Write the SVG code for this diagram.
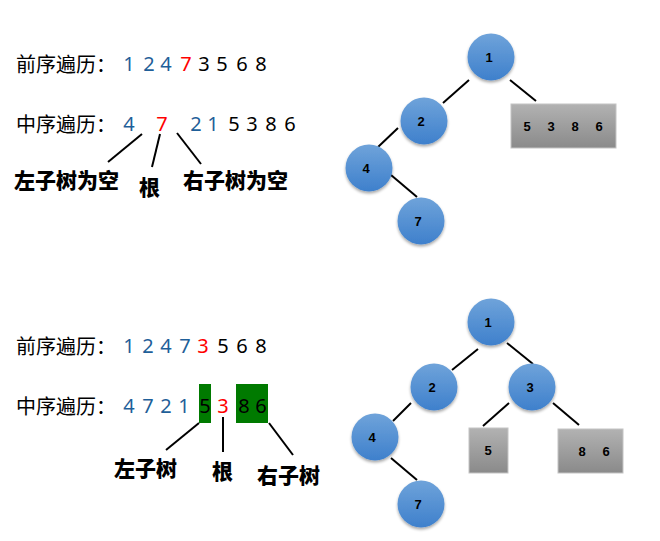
<svg xmlns="http://www.w3.org/2000/svg" width="660" height="541" viewBox="0 0 660 541">
<defs>
<linearGradient id="gBlue" x1="0" y1="0" x2="0" y2="1">
<stop offset="0" stop-color="#6fa3da"/>
<stop offset="1" stop-color="#3e80cc"/>
</linearGradient>
<linearGradient id="gGray" x1="0" y1="0" x2="0" y2="1">
<stop offset="0" stop-color="#b2b2b2"/>
<stop offset="1" stop-color="#8a8a8a"/>
</linearGradient>
<filter id="sh" x="-30%" y="-30%" width="160%" height="170%">
<feGaussianBlur in="SourceAlpha" stdDeviation="1.5"/>
<feOffset dx="0" dy="2" result="b"/>
<feComponentTransfer><feFuncA type="linear" slope="0.35"/></feComponentTransfer>
<feMerge><feMergeNode/><feMergeNode in="SourceGraphic"/></feMerge>
</filter>
</defs>
<style>
.t{font-family:"Noto Sans CJK SC","Noto Sans",sans-serif;font-size:20px;fill:#000}
.d{font-family:"Noto Sans","Open Sans",sans-serif;font-size:20px;text-anchor:middle}
.b{fill:#1f5f99}.r{fill:#ff0000}.k{fill:#000}
.lab{font-family:"Noto Sans CJK SC",sans-serif;font-size:21px;font-weight:900;fill:#000}
.ptr{stroke:#000;stroke-width:2;fill:none}
.edge{stroke:#000;stroke-width:2;fill:none}
.c{fill:url(#gBlue);filter:url(#sh)}
.box{fill:url(#gGray);stroke:#c4c4c4;stroke-width:1}
.n{font-family:"Liberation Sans",Arial,sans-serif;font-size:13px;font-weight:bold;text-anchor:middle;fill:#000}
.g{fill:#007a00}
</style>

<!-- Top text -->
<g id="top-pre">
<text class="t" x="16" y="72">前序遍历：</text>
<text class="d b" x="129" y="71">1</text>
<text class="d b" x="149" y="71">2</text>
<text class="d b" x="166" y="71">4</text>
<text class="d r" x="186" y="71">7</text>
<text class="d k" x="204" y="71">3</text>
<text class="d k" x="222" y="71">5</text>
<text class="d k" x="242" y="71">6</text>
<text class="d k" x="261" y="71">8</text>
</g>
<g id="top-in">
<text class="t" x="16" y="132">中序遍历：</text>
<text class="d b" x="129" y="131">4</text>
<text class="d r" x="162" y="131">7</text>
<text class="d b" x="196" y="131">2</text>
<text class="d b" x="213" y="131">1</text>
<text class="d k" x="234" y="131">5</text>
<text class="d k" x="252" y="131">3</text>
<text class="d k" x="271" y="131">8</text>
<text class="d k" x="290" y="131">6</text>
</g>
<g id="top-pointers">
<line class="ptr" x1="142" y1="134" x2="108" y2="162"/>
<line class="ptr" x1="160" y1="134" x2="152" y2="167"/>
<line class="ptr" x1="177" y1="133" x2="201" y2="164"/>
</g>
<g id="top-labels">
<text class="lab" x="14" y="188">左子树为空</text>
<text class="lab" x="139" y="195">根</text>
<text class="lab" x="183" y="188">右子树为空</text>
</g>

<!-- Top tree -->
<g id="top-edges">
<line class="edge" x1="469" y1="80" x2="443" y2="103"/>
<line class="edge" x1="510" y1="80" x2="536" y2="101"/>
<line class="edge" x1="398" y1="128" x2="378" y2="147"/>
<line class="edge" x1="391" y1="175" x2="417" y2="197"/>
</g>
<g id="t-n1"><circle class="c" cx="491" cy="57" r="23.5"/><text class="n" x="489" y="62">1</text></g>
<g id="t-n2"><circle class="c" cx="424" cy="121" r="23.5"/><text class="n" x="421" y="126">2</text></g>
<g id="t-n4"><circle class="c" cx="369" cy="168" r="23.5"/><text class="n" x="366" y="173">4</text></g>
<g id="t-n7"><circle class="c" cx="421" cy="221" r="23.5"/><text class="n" x="418" y="226">7</text></g>
<g id="t-box"><rect class="box" x="511" y="104" width="105" height="44"/>
<text class="n" x="527" y="131">5</text><text class="n" x="551" y="131">3</text><text class="n" x="575" y="131">8</text><text class="n" x="599" y="131">6</text></g>

<!-- Bottom text -->
<g id="bot-pre">
<text class="t" x="16" y="354">前序遍历：</text>
<text class="d b" x="129" y="353">1</text>
<text class="d b" x="148" y="353">2</text>
<text class="d b" x="166" y="353">4</text>
<text class="d b" x="185" y="353">7</text>
<text class="d r" x="203" y="353">3</text>
<text class="d k" x="223" y="353">5</text>
<text class="d k" x="242" y="353">6</text>
<text class="d k" x="261" y="353">8</text>
</g>
<g id="bot-in">
<rect class="g" x="199" y="384" width="12" height="39"/>
<rect class="g" x="236" y="384" width="32" height="39"/>
<text class="t" x="16" y="414">中序遍历：</text>
<text class="d b" x="129" y="413">4</text>
<text class="d b" x="148" y="413">7</text>
<text class="d b" x="166" y="413">2</text>
<text class="d b" x="184" y="413">1</text>
<text class="d k" x="205" y="413">5</text>
<text class="d r" x="223" y="413">3</text>
<text class="d k" x="244" y="413">8</text>
<text class="d k" x="261" y="413">6</text>
</g>
<g id="bot-pointers">
<line class="ptr" x1="199" y1="423" x2="166" y2="450"/>
<line class="ptr" x1="223" y1="417" x2="223" y2="452"/>
<line class="ptr" x1="269" y1="423" x2="293" y2="455"/>
</g>
<g id="bot-labels">
<text class="lab" x="114" y="476">左子树</text>
<text class="lab" x="212" y="479">根</text>
<text class="lab" x="257" y="483">右子树</text>
</g>

<!-- Bottom tree -->
<g id="bot-edges">
<line class="edge" x1="478" y1="349" x2="452" y2="370"/>
<line class="edge" x1="507" y1="343" x2="533" y2="364"/>
<line class="edge" x1="411" y1="403" x2="393" y2="421"/>
<line class="edge" x1="509" y1="403" x2="483" y2="426"/>
<line class="edge" x1="553" y1="403" x2="579" y2="425"/>
<line class="edge" x1="391" y1="458" x2="417" y2="480"/>
</g>
<g id="b-n1"><circle class="c" cx="491" cy="322" r="23.5"/><text class="n" x="488" y="327">1</text></g>
<g id="b-n2"><circle class="c" cx="434" cy="387" r="23.5"/><text class="n" x="432" y="392">2</text></g>
<g id="b-n3"><circle class="c" cx="532" cy="387" r="23.5"/><text class="n" x="530" y="392">3</text></g>
<g id="b-n4"><circle class="c" cx="375" cy="437" r="23.5"/><text class="n" x="372" y="442">4</text></g>
<g id="b-n7"><circle class="c" cx="421" cy="504" r="23.5"/><text class="n" x="418" y="509">7</text></g>
<g id="b-box5"><rect class="box" x="469" y="428" width="39" height="45"/><text class="n" x="488" y="455">5</text></g>
<g id="b-box86"><rect class="box" x="558" y="429" width="65" height="44"/><text class="n" x="582" y="456">8</text><text class="n" x="606" y="456">6</text></g>
</svg>
